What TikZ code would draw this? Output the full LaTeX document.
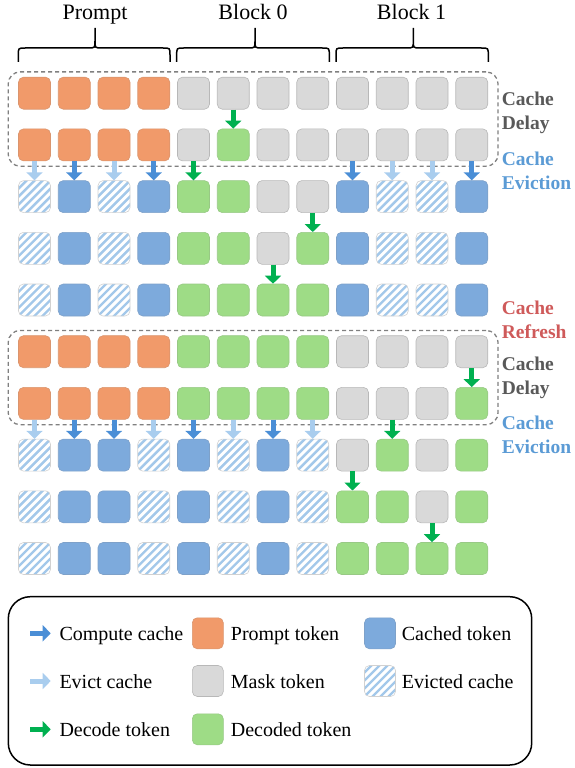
\documentclass[tikz,border=0pt]{standalone}
\usepackage{fontspec}
\setmainfont{Liberation Serif}
\usetikzlibrary{arrows.meta,fit,calc}

% token and arrow colours
\definecolor{promptC}{HTML}{F19A6A}
\definecolor{maskC}{HTML}{D9D9D9}
\definecolor{decC}{HTML}{9EDC86}
\definecolor{cacheC}{HTML}{7DAADC}
\definecolor{hatchC}{HTML}{A3C8EA}
\definecolor{cmpC}{HTML}{4A8ED6}
\definecolor{evcC}{HTML}{A9CDEE}
\definecolor{decArrowC}{HTML}{00B050}
\definecolor{delayTxt}{HTML}{595959}
\definecolor{evictTxt}{HTML}{5B9BD5}
\definecolor{refreshTxt}{HTML}{CF5A5A}

\begin{document}
\begin{tikzpicture}[x=1pt,y=-1pt,
  cell/.style={minimum size=32pt, inner sep=0pt, rounded corners=5pt, line width=0.6pt},
  tokP/.style={cell, fill=promptC, draw=promptC!80!gray},
  tokM/.style={cell, fill=maskC, draw=maskC!85!black},
  tokD/.style={cell, fill=decC, draw=decC!80!gray},
  tokC/.style={cell, fill=cacheC, draw=cacheC!80!gray},
  tokE/.style={cell, fill=white, draw=black!18,
    path picture={\foreach \k in {-5,...,5}{
      \draw[hatchC, line width=2.4pt]
        ([xshift=\k*8pt-24pt, yshift=-24pt]path picture bounding box.center) -- ++(48pt,48pt);}}},
  headarrow/.style={line width=5pt, -{Triangle[width=16pt,length=8pt]}},
  cmp/.style={headarrow, draw=cmpC},
  evc/.style={headarrow, draw=evcC},
  dcd/.style={headarrow, draw=decArrowC},
  dashbox/.style={draw=black!50, dash pattern=on 4pt off 3pt, line width=1.3pt,
    rounded corners=12pt, inner xsep=10pt, inner ysep=5pt},
  bracepath/.style={draw=black, line width=1.5pt},
  header/.style={font=\fontsize{22}{26}\selectfont, inner sep=0pt, anchor=base},
  sidelbl/.style={font=\bfseries\fontsize{19.5}{24}\selectfont, align=left, anchor=west, inner sep=0pt},
  legtxt/.style={font=\fontsize{20}{24}\selectfont, inner sep=0pt, anchor=base west},
  legsq/.style={minimum size=31pt}
]
\useasboundingbox (0,0) rectangle (574,768);

% headers and braces
\node[header] (hP) at (95,20) {Prompt};
\node[header] (hB0) at (253,20) {Block 0};
\node[header] (hB1) at (411.5,20) {Block 1};
\foreach \xa/\xm/\xb in {18.3/95/170, 176.7/255/329.3, 336/413.3/488.3}{
  \draw[bracepath] (\xa,62) -- (\xa,55) .. controls (\xa,48) .. (\xa+7,48)
    -- (\xm-7,48) .. controls (\xm,48) .. (\xm,41) -- (\xm,28)
    (\xm,41) .. controls (\xm,48) .. (\xm+7,48)
    -- (\xb-7,48) .. controls (\xb,48) .. (\xb,55) -- (\xb,62);
}

% token grid: P prompt, M mask, D decoded, C cached, E evicted
\foreach \row [count=\r from 0] in {
  {P,P,P,P,M,M,M,M,M,M,M,M},
  {P,P,P,P,M,D,M,M,M,M,M,M},
  {E,C,E,C,D,D,M,M,C,E,E,C},
  {E,C,E,C,D,D,M,D,C,E,E,C},
  {E,C,E,C,D,D,D,D,C,E,E,C},
  {P,P,P,P,D,D,D,D,M,M,M,M},
  {P,P,P,P,D,D,D,D,M,M,M,D},
  {E,C,C,E,C,E,C,E,M,D,M,D},
  {E,C,C,E,C,E,C,E,D,D,M,D},
  {E,C,C,E,C,E,C,E,D,D,D,D}}{
  \foreach \t [count=\c from 0] in \row {
    \node[tok\t] (c\r-\c) at ({34.5+39.75*\c},{93.2+51.7*\r}) {};
  }
}

% delayed-cache frames
\node[dashbox, fit=(c0-0)(c1-11)] (box1) {};
\node[dashbox, fit=(c5-0)(c6-11)] (box2) {};

% decode steps
\foreach \a/\b in {0-5/1-5, 1-4/2-4, 2-7/3-7, 3-6/4-6, 5-11/6-11, 6-9/7-9, 7-8/8-8, 8-10/9-10}
  \draw[dcd] (c\a.south) -- (c\b.north);
% cache computation
\foreach \a/\b in {1-1/2-1, 1-3/2-3, 1-8/2-8, 1-11/2-11, 6-1/7-1, 6-2/7-2, 6-4/7-4, 6-6/7-6}
  \draw[cmp] (c\a.south) -- (c\b.north);
% cache eviction
\foreach \a/\b in {1-0/2-0, 1-2/2-2, 1-9/2-9, 1-10/2-10, 6-0/7-0, 6-3/7-3, 6-5/7-5, 6-7/7-7}
  \draw[evc] (c\a.south) -- (c\b.north);

% side annotations
\node[sidelbl, text=delayTxt] (s1) at (501.7,113) {Cache\\Delay};
\node[sidelbl, text=evictTxt] (s2) at (501.7,170.7) {Cache\\Eviction};
\node[sidelbl, text=refreshTxt] (s3) at (501.7,320) {Cache\\Refresh};
\node[sidelbl, text=delayTxt] (s4) at (501.7,377.5) {Cache\\Delay};
\node[sidelbl, text=evictTxt] (s5) at (501.7,434.4) {Cache\\Eviction};

% legend
\draw[line width=1.5pt, rounded corners=22pt] (8.3,596.7) rectangle (531.7,765);
\coordinate (la1) at (30,633.3);  \coordinate (lb1) at (50.7,633.3);
\coordinate (la2) at (30,681);    \coordinate (lb2) at (50.7,681);
\coordinate (la3) at (30,729.3);  \coordinate (lb3) at (50.7,729.3);
\draw[cmp] (la1) -- (lb1);
\draw[evc] (la2) -- (lb2);
\draw[dcd] (la3) -- (lb3);
\node[legtxt] (lt1) at (59.3,640.7) {Compute cache};
\node[legtxt] (lt2) at (59.3,688.3) {Evict cache};
\node[legtxt] (lt3) at (59.3,736) {Decode token};
\node[tokP, legsq] (lsP) at (207.8,633.3) {};
\node[tokM, legsq] (lsM) at (207.8,681) {};
\node[tokD, legsq] (lsD) at (207.8,729.3) {};
\node[legtxt] (lt4) at (230.7,640.7) {Prompt token};
\node[legtxt] (lt5) at (230.7,688.3) {Mask token};
\node[legtxt] (lt6) at (230.7,736) {Decoded token};
\node[tokC, legsq] (lsC) at (380,633.3) {};
\node[tokE, legsq] (lsE) at (380,681) {};
\node[legtxt] (lt7) at (401.7,640.7) {Cached token};
\node[legtxt] (lt8) at (401.7,688.3) {Evicted cache};
\end{tikzpicture}
\end{document}
